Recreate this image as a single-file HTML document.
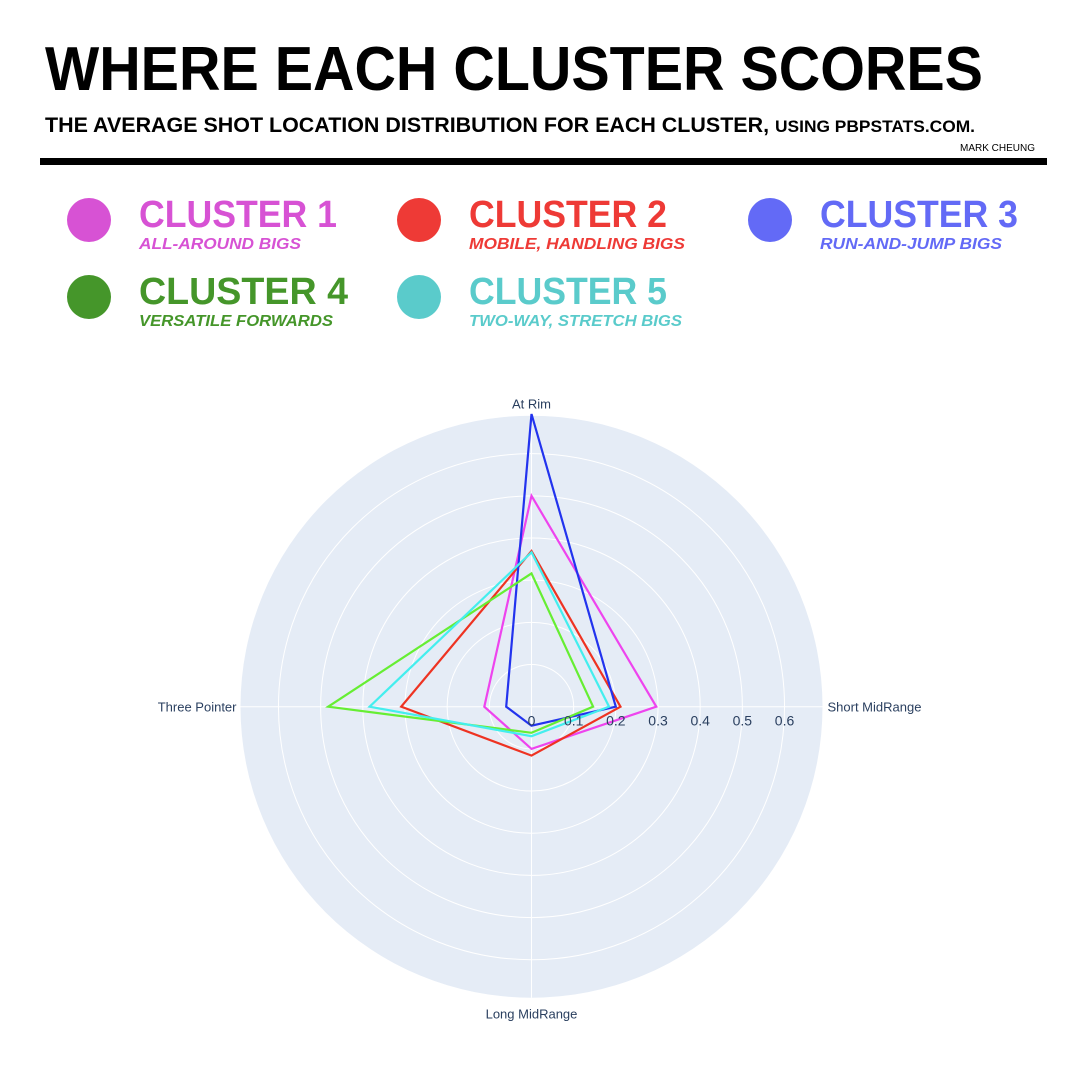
<!DOCTYPE html>
<html><head><meta charset="utf-8"><style>
html,body{margin:0;padding:0;background:#fff;}
svg{display:block;font-family:"Liberation Sans",sans-serif;}
</style></head><body>
<svg id="chart" width="1080" height="1080" viewBox="0 0 1080 1080">
<text x="45" y="90" font-size="62" font-weight="bold" textLength="938" lengthAdjust="spacingAndGlyphs">WHERE EACH CLUSTER SCORES</text>
<text x="45" y="132" font-size="21" font-weight="bold" textLength="930" lengthAdjust="spacingAndGlyphs">THE AVERAGE SHOT LOCATION DISTRIBUTION FOR EACH CLUSTER, <tspan font-size="17">USING PBPSTATS.COM.</tspan></text>
<text x="1035" y="151" font-size="10" text-anchor="end">MARK CHEUNG</text>
<rect x="40" y="158" width="1007" height="7" fill="#000"/>
<g id="legend"></g>
<g id="polar"></g>
</svg>
<script>
const axes = ["At Rim","Short MidRange","Long MidRange","Three Pointer"];
const c1 = [0.50,0.296,0.100,0.112];
const c2 = [0.369,0.211,0.116,0.309];
const c3 = [0.694,0.200,0.045,0.060];
const c4 = [0.316,0.146,0.062,0.482];
const c5 = [0.366,0.184,0.070,0.384];
const ticks = [0,0.1,0.2,0.3,0.4,0.5,0.6];
const names = ["CLUSTER 1","CLUSTER 2","CLUSTER 3","CLUSTER 4","CLUSTER 5"];
const subs = ["ALL-AROUND BIGS","MOBILE, HANDLING BIGS","RUN-AND-JUMP BIGS","VERSATILE FORWARDS","TWO-WAY, STRETCH BIGS"];
const series=[c1,c2,c3,c4,c5];
const lineCols=["#ee44ee","#ee3322","#2233ee","#66ee33","#44eeee"];
const legCols=["#d752d4","#ee3a36","#636af6","#45962a","#5acbcb"];
const NS="http://www.w3.org/2000/svg";
function mk(t,a,p){const e=document.createElementNS(NS,t);for(const k in a)e.setAttribute(k,a[k]);p.appendChild(e);return e;}
const cx=531.5,cy=706.7,R=291,rmax=0.69;
const r=v=>v/rmax*R;
const ang=i=>-Math.PI/2+i*Math.PI/2;
const P=document.getElementById('polar');
const bg=mk('circle',{cx,cy,r:R,fill:'#e5ecf6'},P);


ticks.forEach(t=>{if(t>0){const c=mk('circle',{cx,cy,r:r(t),fill:'none',stroke:'#fff','stroke-width':1},P);

}});
axes.forEach((a,i)=>{const x=cx+R*Math.cos(ang(i)),y=cy+R*Math.sin(ang(i));
const l=mk('line',{x1:cx,y1:cy,x2:x,y2:y,stroke:'#fff','stroke-width':1},P);


let tx=x,ty=y,anc='middle';
if(i==0)ty=y-7;if(i==1){tx=x+5;ty=y+5;anc='start';}if(i==2)ty=y+21;if(i==3){tx=x-4;ty=y+5;anc='end';}
const t=mk('text',{x:tx,y:ty,'font-size':13,fill:'#2a3f5f','text-anchor':anc},P);t.textContent=a;

});
series.forEach((s,k)=>{const pts=s.map((v,i)=>(cx+r(v)*Math.cos(ang(i))).toFixed(1)+','+(cy+r(v)*Math.sin(ang(i))).toFixed(1)).join(' ');
const p=mk('polygon',{points:pts,fill:'none',stroke:lineCols[k],'stroke-width':2.2,'stroke-linejoin':'miter'},P);

});
ticks.forEach(t=>{const tt=mk('text',{x:cx+r(t),y:cy+19,'font-size':14,fill:'#2a3f5f','text-anchor':'middle'},P);tt.textContent=String(t);

});
const L=document.getElementById('legend');
const pos=[[89,220],[419,220],[770,220],[89,297],[419,297]];
const subW=[162,216,182,194,213];
names.forEach((n,k)=>{const [x,y]=pos[k];
const g=mk('g',{},L);


mk('ellipse',{cx:x,cy:y,rx:22,ry:22,fill:legCols[k]},g);
const t=mk('text',{x:x+50,y:y+7,'font-size':38,'font-weight':'bold',fill:legCols[k]},g);t.textContent=n;
t.setAttribute('textLength', k==3?209:198);t.setAttribute('lengthAdjust','spacingAndGlyphs');
const s=mk('text',{x:x+50,y:y+29,'font-size':16,'font-style':'italic','font-weight':'bold',fill:legCols[k]},g);s.textContent=subs[k];
s.setAttribute('textLength',subW[k]);s.setAttribute('lengthAdjust','spacingAndGlyphs');});
</script>
</body></html>
